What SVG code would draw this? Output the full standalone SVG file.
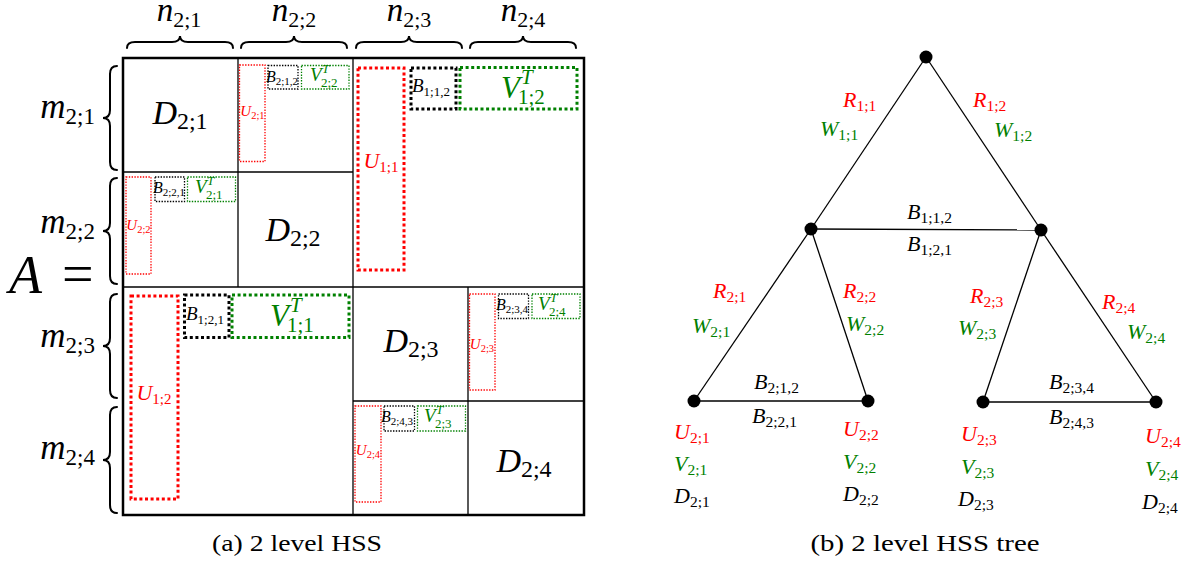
<svg xmlns="http://www.w3.org/2000/svg" width="1197" height="563" viewBox="0 0 1197 563">
<style>
text{font-family:"Liberation Serif","Times New Roman",serif;fill:#000}
.i{font-style:italic}
.red{fill:#ff0000}
.grn{fill:#008000}
.ln{stroke:#000;stroke-width:1.3;fill:none}
.br{stroke:#000;stroke-width:2;fill:none;stroke-linecap:round}
.d2{fill:none;stroke-width:1.3;stroke-dasharray:1.4 1.4}
.d1{fill:none;stroke-width:3;stroke-dasharray:3 2.6}
.sr{stroke:#ff0000}.sg{stroke:#008000}.sk{stroke:#000}
.edge{stroke:#000;stroke-width:1.3;fill:none}
.nd{fill:#000}
.tl{font-size:22px}
</style>
<rect width="1197" height="563" fill="#fff"/>

<!-- ===== (a) matrix ===== -->
<g id="col-labels">
<text x="179" y="21" text-anchor="middle" font-size="33"><tspan class="i">n</tspan><tspan font-size="22" dy="6">2;1</tspan></text>
<text x="294" y="21" text-anchor="middle" font-size="33"><tspan class="i">n</tspan><tspan font-size="22" dy="6">2;2</tspan></text>
<text x="409" y="21" text-anchor="middle" font-size="33"><tspan class="i">n</tspan><tspan font-size="22" dy="6">2;3</tspan></text>
<text x="523" y="21" text-anchor="middle" font-size="33"><tspan class="i">n</tspan><tspan font-size="22" dy="6">2;4</tspan></text>
<path class="br" d="M127,48 Q127,42 135,42 L172,42 Q180,42 180,36 Q180,42 188,42 L225,42 Q233,42 233,48"/>
<path class="br" d="M241,48 Q241,42 249,42 L286,42 Q294,42 294,36 Q294,42 302,42 L339,42 Q347,42 347,48"/>
<path class="br" d="M356,48 Q356,42 364,42 L401,42 Q409,42 409,36 Q409,42 417,42 L454,42 Q462,42 462,48"/>
<path class="br" d="M470,48 Q470,42 478,42 L515,42 Q523,42 523,36 Q523,42 531,42 L568,42 Q576,42 576,48"/>
</g>

<g id="row-labels">
<text x="95" y="118" text-anchor="end" font-size="35"><tspan class="i">m</tspan><tspan font-size="23" dy="6">2;1</tspan></text>
<text x="95" y="233" text-anchor="end" font-size="35"><tspan class="i">m</tspan><tspan font-size="23" dy="6">2;2</tspan></text>
<text x="95" y="347" text-anchor="end" font-size="35"><tspan class="i">m</tspan><tspan font-size="23" dy="6">2;3</tspan></text>
<text x="95" y="459" text-anchor="end" font-size="35"><tspan class="i">m</tspan><tspan font-size="23" dy="6">2;4</tspan></text>
<path class="br" d="M117,66 Q110,66 110,74 L110,110 Q110,118 103,118 Q110,118 110,126 L110,162 Q110,170 117,170"/>
<path class="br" d="M117,178 Q110,178 110,186 L110,223 Q110,231 103,231 Q110,231 110,239 L110,276 Q110,284 117,284"/>
<path class="br" d="M117,294 Q110,294 110,302 L110,338 Q110,346 103,346 Q110,346 110,354 L110,390 Q110,398 117,398"/>
<path class="br" d="M117,407 Q110,407 110,415 L110,452 Q110,460 103,460 Q110,460 110,468 L110,505 Q110,513 117,513"/>
<text x="9" y="293" class="i" font-size="54">A</text>
<text x="62" y="293" font-size="56">=</text>
</g>

<g id="matrix-grid">
<rect x="123" y="58" width="461" height="457" fill="none" stroke="#000" stroke-width="2.5"/>
<line class="ln" x1="353" y1="58" x2="353" y2="515"/>
<line class="ln" x1="123" y1="287" x2="584" y2="287"/>
<line class="ln" x1="238" y1="58" x2="238" y2="287"/>
<line class="ln" x1="123" y1="172" x2="353" y2="172"/>
<line class="ln" x1="468" y1="287" x2="468" y2="515"/>
<line class="ln" x1="353" y1="401" x2="584" y2="401"/>
</g>

<g id="D21"><text x="180" y="124" text-anchor="middle" font-size="34"><tspan class="i">D</tspan><tspan font-size="24" dy="5">2;1</tspan></text></g>
<g id="D22"><text x="293" y="241" text-anchor="middle" font-size="34"><tspan class="i">D</tspan><tspan font-size="24" dy="5">2;2</tspan></text></g>
<g id="D23"><text x="411" y="352" text-anchor="middle" font-size="34"><tspan class="i">D</tspan><tspan font-size="24" dy="5">2;3</tspan></text></g>
<g id="D24"><text x="524" y="472" text-anchor="middle" font-size="34"><tspan class="i">D</tspan><tspan font-size="24" dy="5">2;4</tspan></text></g>

<!-- level-2 off-diagonal blocks -->
<g id="block-12">
<rect class="d2 sr" x="239.5" y="65" width="25.5" height="96.5"/>
<rect class="d2 sk" x="268" y="65.5" width="30" height="23.5"/>
<rect class="d2 sg" x="301.5" y="65.5" width="47.5" height="23.5"/>
<text x="252.5" y="116" text-anchor="middle" class="red" font-size="15"><tspan class="i">U</tspan><tspan font-size="10.5" dy="3">2;1</tspan></text>
<text x="266" y="82" font-size="16"><tspan class="i">B</tspan><tspan font-size="11" dy="3">2;1,2</tspan></text>
<text class="grn" font-size="19"><tspan class="i" x="310" y="81">V</tspan><tspan class="i" font-size="13" x="322" y="73">T</tspan><tspan font-size="13" x="321" y="87">2;2</tspan></text>
</g>

<g id="block-21">
<rect class="d2 sr" x="126" y="177" width="25" height="97"/>
<rect class="d2 sk" x="155" y="177" width="29.5" height="24.5"/>
<rect class="d2 sg" x="187.5" y="177" width="48" height="24.5"/>
<text x="138.5" y="230" text-anchor="middle" class="red" font-size="15"><tspan class="i">U</tspan><tspan font-size="10.5" dy="3">2;2</tspan></text>
<text x="153" y="193" font-size="16"><tspan class="i">B</tspan><tspan font-size="11" dy="3">2;2,1</tspan></text>
<text class="grn" font-size="19"><tspan class="i" x="195" y="193">V</tspan><tspan class="i" font-size="13" x="207" y="185">T</tspan><tspan font-size="13" x="206" y="199">2;1</tspan></text>
</g>

<g id="block-34">
<rect class="d2 sr" x="469.5" y="294" width="25.5" height="96"/>
<rect class="d2 sk" x="498.5" y="294" width="30" height="24.5"/>
<rect class="d2 sg" x="532" y="294" width="48" height="24.5"/>
<text x="482" y="349" text-anchor="middle" class="red" font-size="15"><tspan class="i">U</tspan><tspan font-size="10.5" dy="3">2;3</tspan></text>
<text x="496" y="310" font-size="16"><tspan class="i">B</tspan><tspan font-size="11" dy="3">2;3,4</tspan></text>
<text class="grn" font-size="19"><tspan class="i" x="538" y="310">V</tspan><tspan class="i" font-size="13" x="550" y="302">T</tspan><tspan font-size="13" x="549" y="316">2;4</tspan></text>
</g>

<g id="block-43">
<rect class="d2 sr" x="355" y="406" width="26" height="96"/>
<rect class="d2 sk" x="384" y="406" width="30.5" height="25"/>
<rect class="d2 sg" x="417.5" y="406" width="48" height="25"/>
<text x="368" y="455" text-anchor="middle" class="red" font-size="15"><tspan class="i">U</tspan><tspan font-size="10.5" dy="3">2;4</tspan></text>
<text x="381" y="422" font-size="16"><tspan class="i">B</tspan><tspan font-size="11" dy="3">2;4,3</tspan></text>
<text class="grn" font-size="19"><tspan class="i" x="424" y="422">V</tspan><tspan class="i" font-size="13" x="436" y="414">T</tspan><tspan font-size="13" x="435" y="428">2;3</tspan></text>
</g>

<!-- level-1 off-diagonal blocks -->
<g id="block-1-12">
<rect class="d1 sr" x="358" y="68" width="46" height="202"/>
<rect class="d1 sk" x="411" y="68" width="45" height="41"/>
<rect class="d1 sg" x="460" y="67.5" width="117" height="41.5"/>
<text x="381" y="168" text-anchor="middle" class="red" font-size="22"><tspan class="i">U</tspan><tspan font-size="15" dy="4">1;1</tspan></text>
<text x="412" y="92" font-size="19"><tspan class="i">B</tspan><tspan font-size="13" dy="4">1;1,2</tspan></text>
<text class="grn" font-size="31"><tspan class="i" x="501" y="98">V</tspan><tspan class="i" font-size="21" x="521" y="84">T</tspan><tspan font-size="21" x="518" y="104">1;2</tspan></text>
</g>

<g id="block-1-21">
<rect class="d1 sr" x="131" y="296" width="47" height="203"/>
<rect class="d1 sk" x="184.5" y="295" width="44.5" height="42.5"/>
<rect class="d1 sg" x="232" y="295" width="117" height="42.5"/>
<text x="154" y="400" text-anchor="middle" class="red" font-size="22"><tspan class="i">U</tspan><tspan font-size="15" dy="4">1;2</tspan></text>
<text x="186" y="320" font-size="19"><tspan class="i">B</tspan><tspan font-size="13" dy="4">1;2,1</tspan></text>
<text class="grn" font-size="31"><tspan class="i" x="270" y="326">V</tspan><tspan class="i" font-size="21" x="290" y="312">T</tspan><tspan font-size="21" x="287" y="332">1;1</tspan></text>
</g>

<text x="297" y="551" text-anchor="middle" font-size="24" textLength="170" lengthAdjust="spacingAndGlyphs">(a) 2 level HSS</text>

<!-- ===== (b) tree ===== -->
<g id="connectors">
<line class="edge" x1="926" y1="57" x2="811" y2="229"/>
<line class="edge" x1="926" y1="57" x2="1041" y2="230"/>
<line class="edge" x1="811" y1="229" x2="1041" y2="230"/>
<line class="edge" x1="811" y1="229" x2="694" y2="401"/>
<line class="edge" x1="811" y1="229" x2="868" y2="401"/>
<line class="edge" x1="1041" y1="230" x2="983" y2="402"/>
<line class="edge" x1="1041" y1="230" x2="1156" y2="402"/>
<line class="edge" x1="694" y1="401" x2="868" y2="401"/>
<line class="edge" x1="983" y1="402" x2="1156" y2="402"/>
</g>

<g id="edge-labels" class="tl">
<text x="843" y="107" class="red"><tspan class="i">R</tspan><tspan font-size="15.5" dy="4">1;1</tspan></text>
<text x="820" y="136" class="grn"><tspan class="i">W</tspan><tspan font-size="15.5" dy="4">1;1</tspan></text>
<text x="973" y="107" class="red"><tspan class="i">R</tspan><tspan font-size="15.5" dy="4">1;2</tspan></text>
<text x="994" y="137" class="grn"><tspan class="i">W</tspan><tspan font-size="15.5" dy="4">1;2</tspan></text>
<text x="907" y="219"><tspan class="i">B</tspan><tspan font-size="15.5" dy="4">1;1,2</tspan></text>
<text x="907" y="251"><tspan class="i">B</tspan><tspan font-size="15.5" dy="4">1;2,1</tspan></text>
<text x="713" y="298" class="red"><tspan class="i">R</tspan><tspan font-size="15.5" dy="4">2;1</tspan></text>
<text x="692" y="333" class="grn"><tspan class="i">W</tspan><tspan font-size="15.5" dy="4">2;1</tspan></text>
<text x="843" y="298" class="red"><tspan class="i">R</tspan><tspan font-size="15.5" dy="4">2;2</tspan></text>
<text x="846" y="331" class="grn"><tspan class="i">W</tspan><tspan font-size="15.5" dy="4">2;2</tspan></text>
<text x="970" y="303" class="red"><tspan class="i">R</tspan><tspan font-size="15.5" dy="4">2;3</tspan></text>
<text x="958" y="335" class="grn"><tspan class="i">W</tspan><tspan font-size="15.5" dy="4">2;3</tspan></text>
<text x="1102" y="309" class="red"><tspan class="i">R</tspan><tspan font-size="15.5" dy="4">2;4</tspan></text>
<text x="1127" y="339" class="grn"><tspan class="i">W</tspan><tspan font-size="15.5" dy="4">2;4</tspan></text>
<text x="754" y="389"><tspan class="i">B</tspan><tspan font-size="15.5" dy="4">2;1,2</tspan></text>
<text x="752" y="423"><tspan class="i">B</tspan><tspan font-size="15.5" dy="4">2;2,1</tspan></text>
<text x="1049" y="389"><tspan class="i">B</tspan><tspan font-size="15.5" dy="4">2;3,4</tspan></text>
<text x="1049" y="424"><tspan class="i">B</tspan><tspan font-size="15.5" dy="4">2;4,3</tspan></text>
</g>

<g id="node-root"><circle class="nd" cx="926" cy="57" r="6.5"/></g>
<g id="node-1-1"><circle class="nd" cx="811" cy="229" r="6.5"/></g>
<g id="node-1-2"><circle class="nd" cx="1041" cy="230" r="6.5"/></g>
<g id="node-2-1" class="tl"><circle class="nd" cx="694" cy="401" r="6.5"/>
<text x="674" y="439" class="red"><tspan class="i">U</tspan><tspan font-size="15.5" dy="4">2;1</tspan></text>
<text x="674" y="471" class="grn"><tspan class="i">V</tspan><tspan font-size="15.5" dy="4">2;1</tspan></text>
<text x="674" y="503"><tspan class="i">D</tspan><tspan font-size="15.5" dy="4">2;1</tspan></text>
</g>
<g id="node-2-2" class="tl"><circle class="nd" cx="868" cy="401" r="6.5"/>
<text x="843" y="436" class="red"><tspan class="i">U</tspan><tspan font-size="15.5" dy="4">2;2</tspan></text>
<text x="843" y="469" class="grn"><tspan class="i">V</tspan><tspan font-size="15.5" dy="4">2;2</tspan></text>
<text x="843" y="501"><tspan class="i">D</tspan><tspan font-size="15.5" dy="4">2;2</tspan></text>
</g>
<g id="node-2-3" class="tl"><circle class="nd" cx="983" cy="402" r="6.5"/>
<text x="961" y="441" class="red"><tspan class="i">U</tspan><tspan font-size="15.5" dy="4">2;3</tspan></text>
<text x="961" y="474" class="grn"><tspan class="i">V</tspan><tspan font-size="15.5" dy="4">2;3</tspan></text>
<text x="958" y="506"><tspan class="i">D</tspan><tspan font-size="15.5" dy="4">2;3</tspan></text>
</g>
<g id="node-2-4" class="tl"><circle class="nd" cx="1156" cy="402" r="6.5"/>
<text x="1145" y="443" class="red"><tspan class="i">U</tspan><tspan font-size="15.5" dy="4">2;4</tspan></text>
<text x="1145" y="476" class="grn"><tspan class="i">V</tspan><tspan font-size="15.5" dy="4">2;4</tspan></text>
<text x="1142" y="509"><tspan class="i">D</tspan><tspan font-size="15.5" dy="4">2;4</tspan></text>
</g>

<text x="925" y="551" text-anchor="middle" font-size="24" textLength="229" lengthAdjust="spacingAndGlyphs">(b) 2 level HSS tree</text>
</svg>
